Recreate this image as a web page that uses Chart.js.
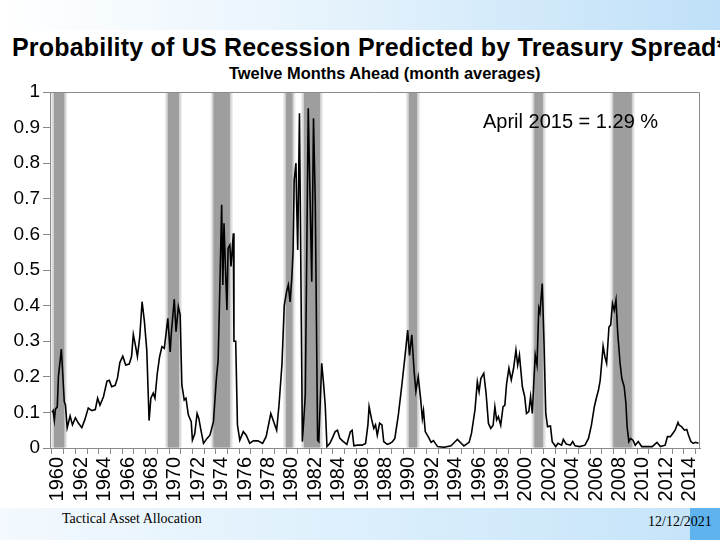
<!DOCTYPE html>
<html>
<head>
<meta charset="utf-8">
<script src="https://cdn.jsdelivr.net/npm/chart.js@4.4.0/dist/chart.umd.min.js"></script>
<style>
  html, body { margin: 0; padding: 0; background: #fff; }
  #slide { position: relative; width: 720px; height: 540px; overflow: hidden; background: #fff;
           font-family: "Liberation Sans", Arial, sans-serif; }
  #topband { position: absolute; left: 0; top: 0; width: 720px; height: 30px;
             background: linear-gradient(to right, #ffffff 0%, #e6f3fc 45%, #bfe0f8 100%); }
  #footband { position: absolute; left: 0; top: 508px; width: 720px; height: 32px;
              background: linear-gradient(to right, #f3f9fe 0%, #dceffc 50%, #c4e3f9 100%); }
  #footbox { position: absolute; left: 690px; top: 508px; width: 30px; height: 32px; background: #5fb3ef; }
  #title { position: absolute; left: 12px; top: 35px; font-size: 25px; line-height: 25px; font-weight: bold;
           letter-spacing: 0.2px; white-space: nowrap; color: #000; }
  #subtitle { position: absolute; left: 229px; top: 65px; font-size: 16.4px; line-height: 17px; font-weight: bold;
              white-space: nowrap; color: #000; }
  .foot { position: absolute; font-family: "Liberation Serif", "Times New Roman", serif; font-size: 14px;
          line-height: 14px; color: #000; white-space: nowrap; }
  #chart { position: absolute; left: 0; top: 0; }
</style>
</head>
<body>
<div id="slide">
  <div id="topband"></div>
  <div id="footband"></div>
  <div id="footbox"></div>
  <div id="title">Probability of US Recession Predicted by Treasury Spread*</div>
  <div id="subtitle">Twelve Months Ahead (month averages)</div>
  <div class="foot" style="left:62px; top:512px;">Tactical Asset Allocation</div>
  <div class="foot" style="left:648px; top:515px;">12/12/2021</div>
  <canvas id="chart" width="720" height="540"></canvas>
</div>
<script>
// probability readings, decimal year -> probability (0..1)
const dates1960s = [1960.0, 1960.1, 1960.2, 1960.3, 1960.45, 1960.55, 1960.8, 1961.05, 1961.15, 1961.3, 1961.55, 1961.75,
  1962.0, 1962.25, 1962.55, 1962.8, 1963.1, 1963.4, 1963.7, 1963.9, 1964.1, 1964.4, 1964.7, 1964.9,
  1965.1, 1965.4, 1965.6, 1965.8, 1966.05, 1966.3, 1966.6, 1966.8, 1966.95, 1967.15, 1967.3, 1967.5,
  1967.7, 1967.9, 1968.1, 1968.3, 1968.45, 1968.65, 1968.8, 1969.0, 1969.2, 1969.4, 1969.6, 1969.9];
const probs1960s = [0.10, 0.105, 0.078, 0.11, 0.115, 0.20, 0.278, 0.13, 0.12, 0.057, 0.09, 0.065,
  0.085, 0.07, 0.057, 0.079, 0.112, 0.105, 0.108, 0.14, 0.12, 0.144, 0.188, 0.19,
  0.172, 0.176, 0.197, 0.24, 0.258, 0.233, 0.236, 0.257, 0.319, 0.285, 0.257, 0.312,
  0.411, 0.355, 0.275, 0.077, 0.14, 0.154, 0.14, 0.21, 0.257, 0.285, 0.28, 0.364];

const dates1970s = [1970.1, 1970.2, 1970.45, 1970.6, 1970.8, 1970.95, 1971.1, 1971.3, 1971.45, 1971.65, 1971.9,
  1972.0, 1972.2, 1972.4, 1972.55, 1972.7, 1972.95, 1973.25, 1973.5, 1973.8, 1974.05, 1974.2, 1974.35,
  1974.5, 1974.6, 1974.7, 1974.8, 1974.95, 1975.05, 1975.2, 1975.3, 1975.5, 1975.55, 1975.7, 1975.85,
  1976.05, 1976.35, 1976.6, 1976.9, 1977.2, 1977.6, 1978.0, 1978.3, 1978.7, 1978.85, 1979.2, 1979.4,
  1979.65, 1979.85];
const probs1970s = [0.27, 0.323, 0.418, 0.327, 0.397, 0.375, 0.177, 0.135, 0.14, 0.093, 0.074,
  0.022, 0.04, 0.097, 0.083, 0.055, 0.013, 0.027, 0.036, 0.074, 0.196, 0.247, 0.458,
  0.683, 0.458, 0.631, 0.53, 0.388, 0.561, 0.57, 0.51, 0.603, 0.30, 0.30, 0.065,
  0.022, 0.046, 0.036, 0.013, 0.02, 0.02, 0.013, 0.032, 0.097, 0.083, 0.05, 0.12,
  0.233, 0.40];

const dates1980s = [1980.05, 1980.2, 1980.35, 1980.5, 1980.6, 1980.7, 1980.85, 1980.9, 1981.0, 1981.15,
  1981.4, 1981.65, 1981.9, 1982.2, 1982.35, 1982.5, 1982.7, 1982.8, 1983.05, 1983.2, 1983.35, 1983.5,
  1983.75, 1983.95, 1984.2, 1984.4, 1984.6, 1984.9, 1985.2, 1985.5, 1985.65, 1985.8, 1986.1, 1986.5,
  1986.8, 1987.0, 1987.1, 1987.3, 1987.5, 1987.65, 1987.8, 1988.0, 1988.2, 1988.35, 1988.65, 1988.9,
  1989.1, 1989.3, 1989.6, 1989.9];
const probs1980s = [0.44, 0.458, 0.41, 0.48, 0.55, 0.753, 0.80, 0.70, 0.556, 0.94,
  0.018, 0.15, 0.954, 0.467, 0.926, 0.69, 0.022, 0.018, 0.238, 0.185, 0.12, 0.004,
  0.013, 0.027, 0.046, 0.05, 0.027, 0.018, 0.01, 0.046, 0.05, 0.006, 0.008, 0.008,
  0.013, 0.065, 0.116, 0.083, 0.055, 0.065, 0.036, 0.07, 0.065, 0.018, 0.01, 0.013,
  0.018, 0.027, 0.093, 0.177];

const dates1990s = [1990.15, 1990.4, 1990.55, 1990.75, 1990.95, 1991.1, 1991.3, 1991.5, 1991.65, 1991.75,
  1991.9, 1992.15, 1992.4, 1992.6, 1992.95, 1993.5, 1994.1, 1994.4, 1994.65, 1994.95, 1995.2, 1995.65,
  1995.85, 1996.15, 1996.35, 1996.5, 1996.65, 1996.9, 1997.1, 1997.3, 1997.5, 1997.7, 1997.85, 1998.0,
  1998.15, 1998.35, 1998.55, 1998.7, 1998.85, 1999.05, 1999.25, 1999.45, 1999.65, 1999.8, 1999.95];
const probs1990s = [0.252, 0.331, 0.26, 0.318, 0.215, 0.16, 0.2, 0.14, 0.083, 0.105,
  0.046, 0.032, 0.016, 0.021, 0.004, 0.002, 0.006, 0.016, 0.024, 0.014, 0.006, 0.016,
  0.041, 0.107, 0.186, 0.158, 0.195, 0.21, 0.153, 0.069, 0.055, 0.064, 0.116, 0.079,
  0.088, 0.064, 0.116, 0.12, 0.18, 0.224, 0.191, 0.224, 0.275, 0.233, 0.261];

const dates2000s = [2000.2, 2000.4, 2000.55, 2000.75, 2000.9, 2001.05, 2001.2, 2001.3, 2001.45, 2001.6,
  2001.7, 2001.9, 2002.05, 2002.2, 2002.35, 2002.6, 2002.75, 2003.05, 2003.25, 2003.55, 2003.7, 2003.95,
  2004.3, 2004.5, 2004.7, 2005.1, 2005.55, 2005.85, 2006.1, 2006.35, 2006.55, 2006.7, 2006.85, 2007.0,
  2007.1, 2007.25, 2007.4, 2007.6, 2007.75, 2007.9, 2008.05, 2008.2, 2008.35, 2008.55, 2008.7, 2008.9,
  2009.05, 2009.15, 2009.3, 2009.45, 2009.65, 2009.85];
const probs2000s = [0.172, 0.144, 0.097, 0.102, 0.144, 0.097, 0.2, 0.261, 0.233, 0.392,
  0.38, 0.462, 0.294, 0.097, 0.06, 0.062, 0.018, 0.004, 0.013, 0.008, 0.024, 0.011,
  0.008, 0.018, 0.006, 0.004, 0.008, 0.027, 0.064, 0.116, 0.144, 0.162, 0.19, 0.247,
  0.286, 0.257, 0.238, 0.34, 0.346, 0.406, 0.387, 0.416, 0.322, 0.238, 0.195, 0.172,
  0.125, 0.06, 0.018, 0.027, 0.022, 0.008];

const dates2010s = [2010.1, 2010.4, 2010.85, 2011.3, 2011.7, 2012.0, 2012.4, 2012.6, 2012.85, 2013.05,
  2013.25, 2013.5, 2013.6, 2013.8, 2014.05, 2014.25, 2014.4, 2014.6, 2014.8, 2015.0, 2015.25];
const probs2010s = [0.018, 0.004, 0.004, 0.004, 0.016, 0.004, 0.008, 0.032, 0.032, 0.041,
  0.05, 0.072, 0.064, 0.06, 0.05, 0.052, 0.036, 0.018, 0.013, 0.016, 0.013];

// NBER recessions (shaded)
const recStart = [1960.17, 1969.9, 1973.8, 1980.0, 1981.54, 1990.5, 2001.22, 2007.97];
const recEnd   = [1961.05, 1970.85, 1975.2, 1980.55, 1982.9, 1991.2, 2001.95, 2009.55];

// x labels (centred in their year)
const labelYears = [1960, 1962, 1964, 1966, 1968, 1970, 1972, 1974, 1976, 1978, 1980, 1982, 1984, 1986,
  1988, 1990, 1992, 1994, 1996, 1998, 2000, 2002, 2004, 2006, 2008, 2010, 2012, 2014];

const noteText = "April 2015 = 1.29 %";

const allDates = [].concat(dates1960s, dates1970s, dates1980s, dates1990s, dates2000s, dates2010s);
const allProbs = [].concat(probs1960s, probs1970s, probs1980s, probs1990s, probs2000s, probs2010s);
const points = allDates.map((d, i) => ({ x: d, y: allProbs[i] }));

const axisGrey = '#8a8a8a';

// recession bars behind the line
const recessionBands = {
  id: 'recessionBands',
  beforeDatasetsDraw(chart) {
    const { ctx, chartArea, scales } = chart;
    const top = chartArea.top + 1;
    const h = chartArea.bottom - chartArea.top - 1.5;
    ctx.save();
    for (let i = 0; i < recStart.length; i++) {
      const x0 = scales.x.getPixelForValue(recStart[i]);
      const x1 = scales.x.getPixelForValue(recEnd[i]);
      ctx.fillStyle = '#ececec';
      ctx.fillRect(x0 - 3, top, x1 - x0 + 6, h);
      ctx.fillStyle = '#cfcfcf';
      ctx.fillRect(x0 - 1.5, top, x1 - x0 + 3, h);
      ctx.fillStyle = '#9e9e9e';
      ctx.fillRect(x0, top, x1 - x0, h);
    }
    ctx.restore();
  }
};

// top and right border of the plot + the note
const frameAndNote = {
  id: 'frameAndNote',
  afterDraw(chart) {
    const { ctx, chartArea } = chart;
    ctx.save();
    ctx.strokeStyle = axisGrey;
    ctx.lineWidth = 1;
    ctx.beginPath();
    ctx.moveTo(chartArea.left, chartArea.top + 0.5);
    ctx.lineTo(chartArea.right - 0.5, chartArea.top + 0.5);
    ctx.lineTo(chartArea.right - 0.5, chartArea.bottom);
    ctx.stroke();
    ctx.fillStyle = '#000';
    ctx.font = '20px "Liberation Sans", Arial, sans-serif';
    ctx.textBaseline = 'alphabetic';
    ctx.fillText(noteText, chartArea.left + 433, chartArea.top + 36);
    ctx.restore();
  }
};

const xTickValues = [];
for (let y = 1960; y <= 2015; y++) {
  xTickValues.push(y);
  if (labelYears.includes(y)) xTickValues.push(y + 0.5);
}

new Chart(document.getElementById('chart'), {
  type: 'line',
  data: {
    datasets: [{
      data: points,
      borderColor: '#000',
      borderWidth: 1.6,
      pointRadius: 0,
      tension: 0,
      fill: false
    }]
  },
  options: {
    responsive: false,
    animation: false,
    layout: { padding: { top: 92, right: 20, bottom: 32, left: 0 } },
    plugins: { legend: { display: false }, tooltip: { enabled: false } },
    scales: {
      x: {
        type: 'linear',
        min: 1959.83,
        max: 2015.38,
        afterBuildTicks: axis => { axis.ticks = xTickValues.map(v => ({ value: v })); },
        afterFit: scale => { scale.height = 60; scale.paddingLeft = 0; scale.paddingRight = 0; },
        border: { color: axisGrey, width: 1 },
        grid: {
          drawOnChartArea: false,
          drawTicks: true,
          tickLength: 6,
          tickColor: c => (Number.isInteger(c.tick.value) ? axisGrey : 'rgba(0,0,0,0)')
        },
        ticks: {
          autoSkip: false,
          maxRotation: 90,
          minRotation: 90,
          padding: 3,
          color: '#000',
          font: { family: '"Liberation Sans", Arial, sans-serif', size: 20 },
          callback: v => (labelYears.includes(v - 0.5) ? String(v - 0.5) : '')
        }
      },
      y: {
        min: 0,
        max: 1,
        afterFit: scale => { scale.width = 50; scale.paddingTop = 0; scale.paddingBottom = 0; },
        border: { color: axisGrey, width: 1 },
        grid: { drawOnChartArea: false, drawTicks: true, tickLength: 7, color: axisGrey },
        ticks: {
          stepSize: 0.1,
          padding: 3,
          color: '#000',
          font: { family: '"Liberation Sans", Arial, sans-serif', size: 19 },
          callback: v => String(Number(v.toFixed(1)))
        }
      }
    }
  },
  plugins: [recessionBands, frameAndNote]
});
</script>
</body>
</html>
